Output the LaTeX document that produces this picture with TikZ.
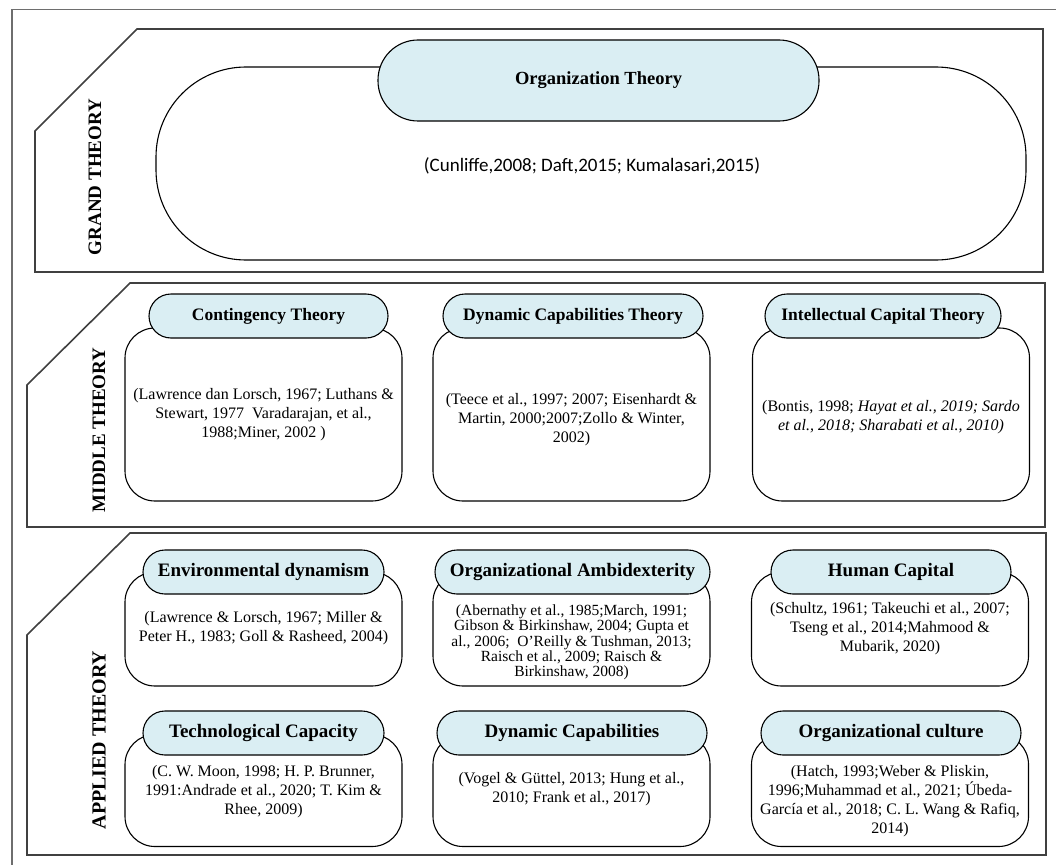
\documentclass[tikz,border=0pt]{standalone}
\usepackage{fontspec}
\setmainfont{Liberation Serif}
\newfontfamily\calibfont{Carlito}
\definecolor{titleblue}{RGB}{218,238,243}
\definecolor{panelgray}{RGB}{64,64,64}
\definecolor{framegray}{RGB}{110,110,110}
\begin{document}
\begin{tikzpicture}[x=1pt,y=-1pt,
  outerframe/.style={draw=framegray,line width=1.8pt},
  panel/.style={draw=panelgray,line width=1.6pt},
  bodybox/.style={draw=black,line width=1.1pt,fill=white,rounded corners=30pt,
    inner sep=0pt,minimum width=277pt},
  titlebox/.style={draw=black,line width=1.1pt,fill=titleblue,inner sep=0pt,
    minimum height=44pt,rounded corners=22pt},
  titletext/.style={font=\bfseries\fontsize{17.5pt}{20pt}\selectfont},
  apptitle/.style={font=\bfseries\fontsize{19pt}{22pt}\selectfont},
  cite/.style={align=center,inner sep=0pt,font=\fontsize{16pt}{19pt}\selectfont},
  levellabel/.style={rotate=90,font=\bfseries\fontsize{19pt}{22pt}\selectfont}]
\useasboundingbox (0,0) rectangle (1056,864);
\clip (0,0) rectangle (1056,864);
\fill[white] (0,0) rectangle (1056,864);

% outer frame (runs off the right and bottom edges)
\draw[outerframe] (12,9.5) rectangle (1080,890);

% ---------------- grand theory ----------------
\draw[panel] (35,272) -- (35,131) -- (137,29) -- (1043,29) -- (1043,272) -- cycle;
\node[levellabel] (gl) at (95,177) {GRAND THEORY};
\node[draw=black,line width=1.1pt,fill=white,rounded corners=90pt,inner sep=0pt,
  minimum width=870pt,minimum height=193pt] (gbody) at (591,163.5) {};
\node[draw=black,line width=1.1pt,fill=titleblue,rounded corners=40pt,inner sep=0pt,
  minimum width=441pt,minimum height=81pt] (gtitle) at (598.5,80.5) {};
\node[font=\bfseries\fontsize{18.5pt}{21pt}\selectfont] (gtt) at (gtitle.center) {Organization Theory};
\node[font=\calibfont\fontsize{19pt}{22pt}\selectfont] (gcite) at (592,166)
  {(Cunliffe,2008; Daft,2015; Kumalasari,2015)};

% ---------------- middle theory ----------------
\draw[panel] (27,527) -- (27,385) -- (130,283) -- (1045,283) -- (1045,527) -- cycle;
\node[levellabel] (ml) at (99,430) {MIDDLE THEORY};

\node[bodybox,minimum height=173pt] (m1) at (263.5,414.5) {};
\node[bodybox,minimum height=173pt] (m2) at (571.5,414.5) {};
\node[bodybox,minimum height=173pt] (m3) at (891,414.5) {};

\node[titlebox,minimum width=239pt] (m1t) at (268.5,316) {};
\node[titlebox,minimum width=260pt] (m2t) at (573,316) {};
\node[titlebox,minimum width=236pt] (m3t) at (883,316) {};
\node[titletext] at (m1t.center) {Contingency Theory};
\node[titletext] at (m2t.center) {Dynamic Capabilities Theory};
\node[titletext] at (m3t.center) {Intellectual Capital Theory};

\node[cite] (m1c) at (263.5,415) {(Lawrence dan Lorsch, 1967; Luthans \&\\
  Stewart, 1977\ \ Varadarajan, et al.,\\ 1988;Miner, 2002 )};
\node[cite] (m2c) at (571.5,420) {(Teece et al., 1997; 2007; Eisenhardt \&\\
  Martin, 2000;2007;Zollo \& Winter,\\ 2002)};
\node[cite] (m3c) at (891,417) {(Bontis, 1998; \textit{Hayat et al., 2019; Sardo}\\
  \textit{et al., 2018; Sharabati et al., 2010)}};

% ---------------- applied theory ----------------
\draw[panel] (27,855) -- (27,635) -- (130,533) -- (1046,533) -- (1046,855) -- cycle;
\node[levellabel,font=\bfseries\fontsize{20pt}{22pt}\selectfont] (al) at (99,740) {APPLIED THEORY};

% first row
\node[bodybox,minimum height=114pt] (a1) at (263.5,629) {};
\node[bodybox,minimum height=114pt] (a2) at (571.5,629) {};
\node[bodybox,minimum height=114pt] (a3) at (890,629) {};
\node[titlebox,minimum width=241pt] (a1t) at (263.5,572) {};
\node[titlebox,minimum width=275pt] (a2t) at (572.5,572) {};
\node[titlebox,minimum width=240pt] (a3t) at (891,572) {};
\node[apptitle] at (a1t.center) {Environmental dynamism};
\node[apptitle] at (a2t.center) {Organizational Ambidexterity};
\node[apptitle] at (a3t.center) {Human Capital};

\node[cite] (a1c) at (263.5,628.5) {(Lawrence \& Lorsch, 1967; Miller \&\\
  Peter H., 1983; Goll \& Rasheed, 2004)};
\node[cite,font=\fontsize{15.5pt}{15.3pt}\selectfont] (a2c) at (571.5,642.5)
  {(Abernathy et al., 1985;March, 1991;\\ Gibson \& Birkinshaw, 2004; Gupta et\\
  al., 2006;\ \ O’Reilly \& Tushman, 2013;\\ Raisch et al., 2009; Raisch \&\\
  Birkinshaw, 2008)};
\node[cite] (a3c) at (890,628.5) {(Schultz, 1961; Takeuchi et al., 2007;\\
  Tseng et al., 2014;Mahmood \&\\ Mubarik, 2020)};

% second row
\node[bodybox,minimum height=112pt] (b1) at (263.5,790.5) {};
\node[bodybox,minimum height=112pt] (b2) at (571.5,790.5) {};
\node[bodybox,minimum height=112pt] (b3) at (890,790.5) {};
\node[titlebox,minimum width=241pt] (b1t) at (263.5,733) {};
\node[titlebox,minimum width=270pt] (b2t) at (572,733) {};
\node[titlebox,minimum width=260pt] (b3t) at (891,733) {};
\node[apptitle] at (b1t.center) {Technological Capacity};
\node[apptitle] at (b2t.center) {Dynamic Capabilities};
\node[apptitle] at (b3t.center) {Organizational culture};

\node[cite] (b1c) at (263.5,792) {(C. W. Moon, 1998; H. P. Brunner,\\
  1991:Andrade et al., 2020; T. Kim \&\\ Rhee, 2009)};
\node[cite] (b2c) at (571.5,789) {(Vogel \& Güttel, 2013; Hung et al.,\\
  2010; Frank et al., 2017)};
\node[cite] (b3c) at (890,801.5) {(Hatch, 1993;Weber \& Pliskin,\\
  1996;Muhammad et al., 2021; Úbeda-\\ García et al., 2018; C. L. Wang \& Rafiq,\\ 2014)};
\end{tikzpicture}
\end{document}
